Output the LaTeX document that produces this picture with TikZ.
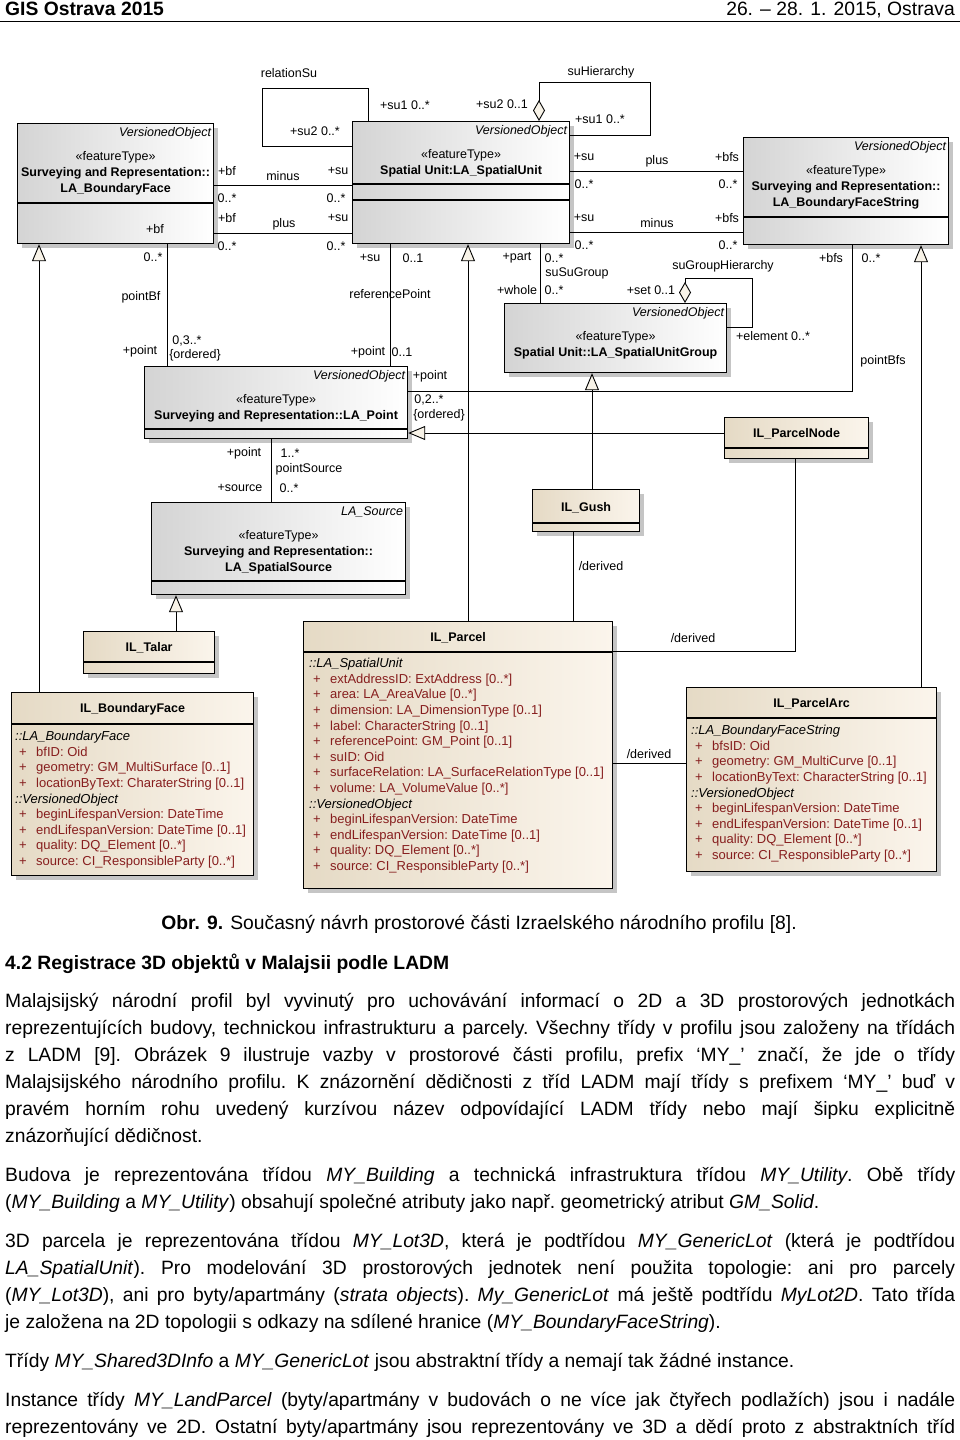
\documentclass[tikz,border=0pt]{standalone}
\usepackage{fontspec}
\setmainfont{Liberation Sans}
\usetikzlibrary{arrows.meta, positioning, shadows}

\definecolor{attrred}{RGB}{135,30,30}
\definecolor{boxgray}{RGB}{212,212,212}
\definecolor{beigedark}{RGB}{229,218,197}
\definecolor{beigelight}{RGB}{251,245,236}
\definecolor{tipfill}{RGB}{248,243,232}

\newcommand{\umlsect}[1]{\textit{#1}}
\newcommand{\umlattr}[1]{\textcolor{attrred}{\hspace*{4pt}\makebox[17pt][l]{+}#1}}
\newcommand{\stereo}{«featureType»}

\begin{document}
\begin{tikzpicture}[x=1pt, y=-1pt,
    box/.style={draw, line width=1.2pt, anchor=north west, inner sep=0pt,
        drop shadow={shadow xshift=4pt, shadow yshift=-4pt, fill=black!45, opacity=.5}},
    graybox/.style={box, left color=boxgray, right color=white},
    beigebox/.style={box, left color=beigedark, right color=beigelight},
    umltext/.style={inner sep=0pt, font=\fontsize{12.5}{16}\selectfont},
    vo/.style={umltext, font=\fontsize{12.5}{16}\selectfont\itshape},
    ttl/.style={umltext, align=center},
    iltitle/.style={umltext, font=\fontsize{12.5}{16}\selectfont\bfseries},
    attrs/.style={inner sep=0pt, align=left, anchor=north west, font=\fontsize{13}{15.6}\selectfont},
    assoc/.style={line width=0.9pt},
    gen/.style={assoc, -{Triangle[fill=tipfill, width=14pt, length=17pt]}},
    agg/.style={assoc, {Diamond[fill=tipfill, width=12pt, length=21pt]}-},
    bodytext/.style={inner sep=0pt, font=\fontsize{19.3}{27}\selectfont},
]
    \fill[white] (0,0) rectangle (960,1440);
    \useasboundingbox (0,0) rectangle (960,1440);

    % page header
    \node[bodytext, font=\fontsize{19.3}{27}\selectfont\bfseries, anchor=base west] (head l) at (5,15) {GIS Ostrava 2015};
    \node[bodytext, anchor=base east] (head r) at (955,15) {26. – 28. 1. 2015, Ostrava};
    \draw[line width=0.8pt] (0,21) -- (960,21);

    % LADM classes
    \node[graybox, minimum width=196pt, minimum height=120pt] (bf)  at (17,123)  {};
    \node[graybox, minimum width=217pt, minimum height=122pt] (su)  at (352,121) {};
    \node[graybox, minimum width=205pt, minimum height=107pt] (bfs) at (743,137) {};
    \node[graybox, minimum width=222pt, minimum height=69pt]  (sug) at (504,303) {};
    \node[graybox, minimum width=263pt, minimum height=72pt]  (pt)  at (144,366) {};
    \node[graybox, minimum width=254pt, minimum height=92pt]  (src) at (151,502) {};

    % profile classes
    \node[beigebox, minimum width=131pt, minimum height=42pt]  (talar)  at (83,631)  {};
    \node[beigebox, minimum width=107pt, minimum height=42pt]  (gush)   at (532,489) {};
    \node[beigebox, minimum width=144pt, minimum height=41pt]  (pnode)  at (724,417) {};
    \node[beigebox, minimum width=309pt, minimum height=267pt] (parcel) at (303,621) {};
    \node[beigebox, minimum width=242pt, minimum height=183pt] (ilbf)   at (11,692)  {};
    \node[beigebox, minimum width=250pt, minimum height=184pt] (parc)   at (686,687) {};

    \foreach \n/\y in {bf/203, su/184, su/200, bfs/217, pt/429, src/581, talar/662,
                       gush/523, pnode/448, parcel/652, ilbf/724, parc/718}
        \draw[line width=1.2pt] (\n.west |- 0,\y) -- (\n.east |- 0,\y);

    \node[vo, below left=4.5pt and 3pt of bf.north east]  (bf vo)  {VersionedObject};
    \node[vo, below left=4.5pt and 3pt of su.north east]  (su vo)  {VersionedObject};
    \node[vo, below left=4.5pt and 3pt of bfs.north east] (bfs vo) {VersionedObject};
    \node[vo, below left=4.5pt and 3pt of sug.north east] (sug vo) {VersionedObject};
    \node[vo, below left=4.5pt and 3pt of pt.north east]  (pt vo)  {VersionedObject};
    \node[vo, below left=4.5pt and 3pt of src.north east] (src vo) {LA\_Source};

    \node[ttl, below=28pt of bf.north]  (bf name)  {\stereo\\\textbf{Surveying and Representation::}\\\textbf{LA\_BoundaryFace}};
    \node[ttl, below=28pt of su.north]  (su name)  {\stereo\\\textbf{Spatial Unit:LA\_SpatialUnit}};
    \node[ttl, below=28pt of bfs.north] (bfs name) {\stereo\\\textbf{Surveying and Representation::}\\\textbf{LA\_BoundaryFaceString}};
    \node[ttl, below=28pt of sug.north] (sug name) {\stereo\\\textbf{Spatial Unit::LA\_SpatialUnitGroup}};
    \node[ttl, below=28pt of pt.north]  (pt name)  {\stereo\\\textbf{Surveying and Representation::LA\_Point}};
    \node[ttl, below=28pt of src.north] (src name) {\stereo\\\textbf{Surveying and Representation::}\\\textbf{LA\_SpatialSource}};

    \node[iltitle, below=11.5pt of talar.north]  (talar name)  {IL\_Talar};
    \node[iltitle, below=13pt of gush.north]     (gush name)   {IL\_Gush};
    \node[iltitle, below=11.5pt of pnode.north]  (pnode name)  {IL\_ParcelNode};
    \node[iltitle, below=11.5pt of parcel.north] (parcel name) {IL\_Parcel};
    \node[iltitle, below=11.5pt of ilbf.north]   (ilbf name)   {IL\_BoundaryFace};
    \node[iltitle, below=11.5pt of parc.north]   (parc name)   {IL\_ParcelArc};

    \node[attrs] (parcel attr) at (309,658) {%
        \umlsect{::LA\_SpatialUnit}\\
        \umlattr{extAddressID:~ExtAddress [0..*]}\\
        \umlattr{area:~LA\_AreaValue [0..*]}\\
        \umlattr{dimension:~LA\_DimensionType [0..1]}\\
        \umlattr{label:~CharacterString [0..1]}\\
        \umlattr{referencePoint:~GM\_Point [0..1]}\\
        \umlattr{suID:~Oid}\\
        \umlattr{surfaceRelation:~LA\_SurfaceRelationType [0..1]}\\
        \umlattr{volume:~LA\_VolumeValue [0..*]}\\
        \umlsect{::VersionedObject}\\
        \umlattr{beginLifespanVersion:~DateTime}\\
        \umlattr{endLifespanVersion:~DateTime [0..1]}\\
        \umlattr{quality:~DQ\_Element [0..*]}\\
        \umlattr{source:~CI\_ResponsibleParty [0..*]}};
    \node[attrs] (ilbf attr) at (15,731) {%
        \umlsect{::LA\_BoundaryFace}\\
        \umlattr{bfID:~Oid}\\
        \umlattr{geometry:~GM\_MultiSurface [0..1]}\\
        \umlattr{locationByText:~CharaterString [0..1]}\\
        \umlsect{::VersionedObject}\\
        \umlattr{beginLifespanVersion:~DateTime}\\
        \umlattr{endLifespanVersion:~DateTime [0..1]}\\
        \umlattr{quality:~DQ\_Element [0..*]}\\
        \umlattr{source:~CI\_ResponsibleParty [0..*]}};
    \node[attrs] (parc attr) at (691,725) {%
        \umlsect{::LA\_BoundaryFaceString}\\
        \umlattr{bfsID:~Oid}\\
        \umlattr{geometry:~GM\_MultiCurve [0..1]}\\
        \umlattr{locationByText:~CharacterString [0..1]}\\
        \umlsect{::VersionedObject}\\
        \umlattr{beginLifespanVersion:~DateTime}\\
        \umlattr{endLifespanVersion:~DateTime [0..1]}\\
        \umlattr{quality:~DQ\_Element [0..*]}\\
        \umlattr{source:~CI\_ResponsibleParty [0..*]}};

    % associations
    \draw[assoc] (368,0 |- su.north) -- (368,88) -- (262,88) |- (su.west |- 0,146);
    \draw[agg] (539,0 |- su.north) -- (539,82) -| (650,135) -- (su.east |- 0,135);
    \draw[assoc] (bf.east |- 0,185) -- (su.west |- 0,185);
    \draw[assoc] (bf.east |- 0,233) -- (su.west |- 0,233);
    \draw[assoc] (su.east |- 0,171) -- (bfs.west |- 0,171);
    \draw[assoc] (su.east |- 0,232) -- (bfs.west |- 0,232);
    \draw[assoc] (390,0 |- su.south) -- (390,0 |- pt.north);
    \draw[assoc] (540,0 |- su.south) -- (540,0 |- sug.north);
    \draw[assoc] (167,0 |- bf.south) -- (167,0 |- pt.north);
    \draw[assoc] (852,0 |- bfs.south) |- (pt.east |- 0,391);
    \draw[assoc] (271,0 |- pt.south) -- (271,0 |- src.north);
    \draw[agg] (685,0 |- sug.north) -- (685,278) -| (752,327) -- (sug.east |- 0,327);

    % generalisations
    \draw[gen] (39,0 |- ilbf.north) -- (39,0 |- bf.south);
    \draw[gen] (468,0 |- parcel.north) -- (468,0 |- su.south);
    \draw[gen] (921,0 |- parc.north) -- (921,0 |- bfs.south);
    \draw[gen] (592,0 |- gush.north) -- (592,0 |- sug.south);
    \draw[gen] (pnode.west |- 0,433) -- (pt.east |- 0,433);
    \draw[gen] (176,0 |- talar.north) -- (176,0 |- src.south);

    % derived links
    \draw[assoc] (573,0 |- gush.south) -- (573,0 |- parcel.north);
    \draw[assoc] (795,0 |- pnode.south) |- (parcel.east |- 0,651);
    \draw[assoc] (parc.west |- 0,763) -- (parcel.east |- 0,763);

    % role names and multiplicities
    \foreach \x/\y/\t [count=\i] in {
        289/73/relationSu, 405/105/+su1 0..*, 315/131/+su2 0..*,
        502/104/+su2 0..1, 600/119/+su1 0..*, 601/72/suHierarchy,
        227/171/+bf, 283/176/minus, 338/171/+su, 227/198/0..*, 336/198/0..*,
        227/218/+bf, 284/224/plus, 338/218/+su, 227/246/0..*, 336/246/0..*,
        155/229/+bf, 153/257/0..*, 141/297/pointBf, 140/351/+point,
        187/341/{0,3..*}, 195/355/\{ordered\},
        584/157/+su, 657/161/plus, 727/157/+bfs, 584/184/0..*, 728/184/0..*,
        584/218/+su, 657/223/minus, 727/218/+bfs, 584/245/0..*, 728/245/0..*,
        370/258/+su, 413/258/0..1, 390/294/referencePoint, 368/352/+point, 402/352/0..1,
        517/258/+part, 554/258/0..*, 577/273/suSuGroup, 517/290/+whole, 554/290/0..*,
        831/258/+bfs, 871/258/0..*, 883/361/pointBfs, 430/376/+point,
        429/400/{0,2..*}, 439/415/\{ordered\},
        723/266/suGroupHierarchy, 651/290/+set 0..1, 773/336/+element 0..*,
        244/453/+point, 290/453/1..*, 309/469/pointSource, 240/488/+source, 289/488/0..*,
        601/566/{/derived}, 693/638/{/derived}, 649/754/{/derived}}
        \node[umltext] (lbl\i) at (\x,\y) {\t};

    % caption and text
    \node[bodytext, anchor=base] (caption) at (479,929) {\textbf{Obr. 9.} Současný návrh prostorové části Izraelského národního profilu [8].};
    \node[bodytext, font=\fontsize{19.3}{27}\selectfont\bfseries, anchor=base west] (section) at (5,969) {4.2 Registrace 3D objektů v Malajsii podle LADM};
    \node[bodytext, anchor=base west, text width=950pt, align=justify] (body) at (5,1007) {%
        \frenchspacing\parskip=12pt
        Malajsijský národní profil byl vyvinutý pro uchovávání informací o 2D a 3D prostorových jednotkách\linebreak
        reprezentujících budovy, technickou infrastrukturu a parcely. Všechny třídy v profilu jsou založeny na třídách\linebreak
        z~LADM [9]. Obrázek 9 ilustruje vazby v~prostorové části profilu, prefix ‘MY\_’ značí, že jde o třídy\linebreak
        Malajsijského národního profilu. K~znázornění dědičnosti z~tříd LADM mají třídy s~prefixem ‘MY\_’ buď v\linebreak
        pravém horním rohu uvedený kurzívou název odpovídající LADM třídy nebo mají šipku explicitně\linebreak
        znázorňující dědičnost.\par
        Budova je reprezentována třídou \textit{MY\_Building} a technická infrastruktura třídou \textit{MY\_Utility}. Obě třídy\linebreak
        (\textit{MY\_Building} a \textit{MY\_Utility}) obsahují společné atributy jako např. geometrický atribut \textit{GM\_Solid}.\par
        3D parcela je reprezentována třídou \textit{MY\_Lot3D}, která je podtřídou \textit{MY\_GenericLot} (která je podtřídou\linebreak
        \textit{LA\_SpatialUnit}). Pro modelování 3D prostorových jednotek není použita topologie: ani pro parcely\linebreak
        (\textit{MY\_Lot3D}), ani pro byty/apartmány (\textit{strata objects}). \textit{My\_GenericLot} má ještě podtřídu \textit{MyLot2D}. Tato třída\linebreak
        je založena na 2D topologii s odkazy na sdílené hranice (\textit{MY\_BoundaryFaceString}).\par
        Třídy \textit{MY\_Shared3DInfo} a \textit{MY\_GenericLot} jsou abstraktní třídy a nemají tak žádné instance.\par
        {\parfillskip=0pt Instance třídy \textit{MY\_LandParcel} (byty/apartmány v budovách o ne více jak čtyřech podlažích) jsou i nadále\linebreak
        reprezentovány ve 2D. Ostatní byty/apartmány jsou reprezentovány ve 3D a dědí proto z abstraktních tříd\par}};
\end{tikzpicture}
\end{document}
